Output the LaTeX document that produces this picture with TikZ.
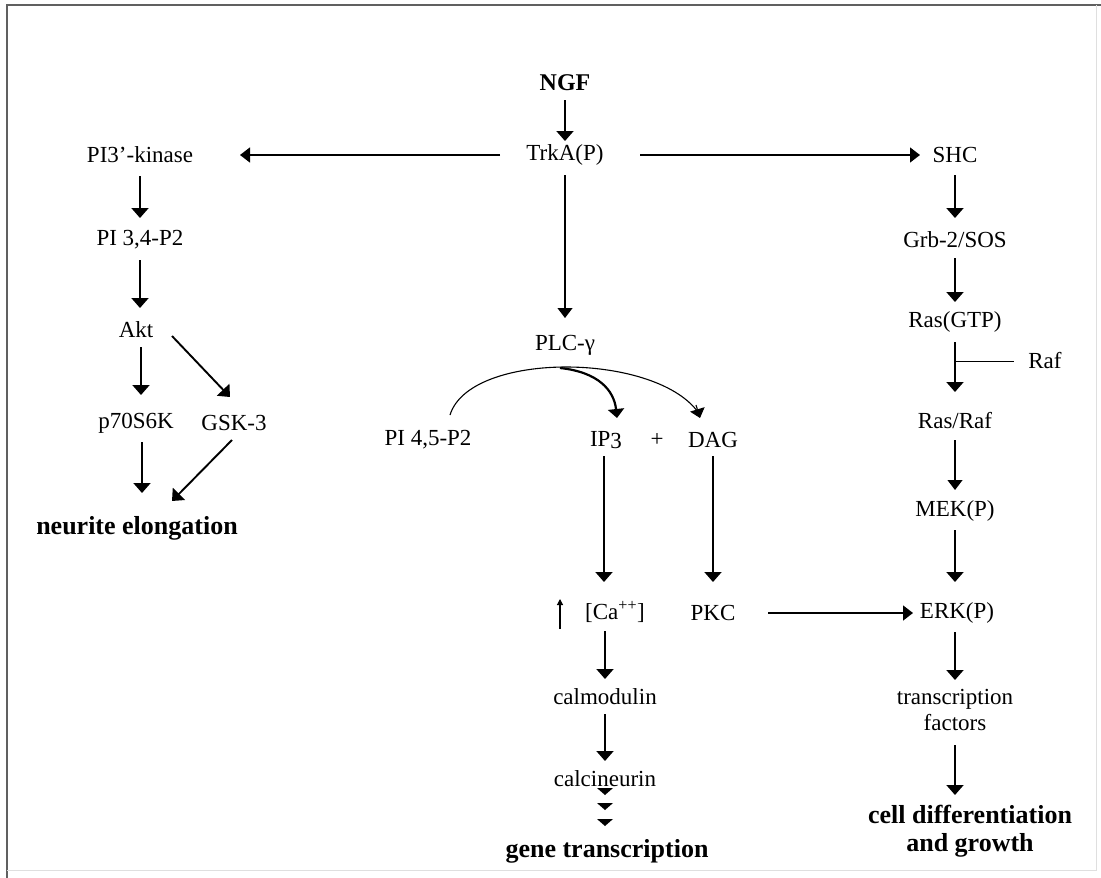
\documentclass[tikz,border=0pt]{standalone}
\usepackage{fontspec}
\setmainfont{Liberation Serif}
\usetikzlibrary{arrows.meta}
\begin{document}
\begin{tikzpicture}[x=1pt,y=-1pt,
  lbl/.style={inner sep=0pt,font=\fontsize{23}{25}\selectfont},
  blbl/.style={inner sep=0pt,font=\fontsize{26}{28}\selectfont\bfseries,align=center},
  arr/.style={line width=1.9pt,-{Triangle[width=17pt,length=10pt]}},
  tarr/.style={line width=1.1pt,-{Triangle[width=15pt,length=10pt]}},
  harr/.style={line width=1.5pt,-{Triangle[width=15pt,length=10pt]}}]
\useasboundingbox (0,0) rectangle (1101,878);
\fill[white] (0,0) rectangle (1101,878);
% frame
\draw[line width=2pt,gray!75!black] (7,878) -- (7,5) -- (1101,5);
\draw[line width=1pt,gray!25] (1096,5) -- (1096,870) -- (7,870);

% nodes
\node[blbl,font=\fontsize{24}{28}\selectfont\bfseries] (ngf) at (565,83) {NGF};
\node[lbl] (trka) at (565,155) {TrkA(P)};
\node[lbl] (pik) at (140,155) {PI3'-kinase};
\node[lbl] (shc) at (955,155) {SHC};
\node[lbl] (pi34) at (140,240) {PI 3,4-P2};
\node[lbl] (akt) at (136,330) {Akt};
\node[lbl] (p70) at (136,423) {p70S6K};
\node[lbl] (gsk) at (234,423) {GSK-3};
\node[blbl] (neur) at (137,528) {neurite elongation};
\node[lbl] (plc) at (565,345) {PLC-γ};
\node[lbl] (pi45) at (428,440) {PI 4,5-P2};
\node[lbl] (ip3) at (606,440) {IP\raisebox{-0.25ex}{3}};
\node[lbl] (plus) at (657,440) {+};
\node[lbl] (dag) at (713,440) {DAG};
\node[lbl] (ca) at (615,612) {[Ca\textsuperscript{++}]};
\node[lbl] (pkc) at (713,613) {PKC};
\node[lbl] (erk) at (957,613) {ERK(P)};
\node[lbl] (calm) at (605,697) {calmodulin};
\node[lbl] (calc) at (605,779) {calcineurin};
\node[blbl] (gene) at (607,851) {gene transcription};
\node[lbl] (grb) at (955,240) {Grb-2/SOS};
\node[lbl] (rasgtp) at (955,322) {Ras(GTP)};
\node[lbl] (raf) at (1045,361) {Raf};
\node[lbl] (rasraf) at (955,421) {Ras/Raf};
\node[lbl] (mek) at (955,511) {MEK(P)};
\node[lbl,align=center,font=\fontsize{23}{26}\selectfont] (tf) at (955,710) {transcription\\factors};
\node[blbl] (cell) at (970,831) {cell differentiation\\and growth};

% connectors
\draw[arr] ([yshift=-17pt]ngf.center) -- ([yshift=14pt]trka.center);
\draw[harr] ([xshift=-65pt]trka.center) -- ([xshift=100pt]pik.center);
\draw[harr] ([xshift=75pt]trka.center) -- ([xshift=-35pt]shc.center);
\draw[tarr] ([yshift=-20pt]trka.center) -- ([yshift=27pt]plc.center);
\draw[arr] ([yshift=-21pt]pik.center) -- ([yshift=22pt]pi34.center);
\draw[arr] ([yshift=-20pt]pi34.center) -- ([xshift=4pt,yshift=22pt]akt.center);
\draw[arr] ([xshift=5pt,yshift=-17pt]akt.center) -- ([xshift=5pt,yshift=28pt]p70.center);
\draw[arr] ([xshift=36pt,yshift=-6pt]akt.center) -- ([xshift=-4pt,yshift=26pt]gsk.center);
\draw[arr] ([xshift=6pt,yshift=-19pt]p70.center) -- ([xshift=5pt,yshift=35pt]neur.center);
\draw[arr] ([xshift=-2pt,yshift=-17pt]gsk.center) -- ([xshift=35pt,yshift=27pt]neur.center);

\draw[arr] ([yshift=-20pt]shc.center) -- ([yshift=22pt]grb.center);
\draw[arr] ([yshift=-18pt]grb.center) -- ([yshift=20pt]rasgtp.center);
\draw[arr] ([yshift=-20pt]rasgtp.center) -- ([yshift=29pt]rasraf.center);
\draw[line width=1pt] (raf.west -| rasgtp.center) -- ([xshift=-14pt]raf.west);
\draw[tarr] ([yshift=-19pt]rasraf.center) -- ([yshift=21pt]mek.center);
\draw[arr] ([yshift=-19pt]mek.center) -- ([xshift=-2pt,yshift=31pt]erk.center);
\draw[arr] ([xshift=-2pt,yshift=-19pt]erk.center) -- ([yshift=30pt]tf.center);
\draw[arr] ([yshift=-35pt]tf.center) -- ([xshift=-15pt,yshift=36pt]cell.center);

% PLC arc
\draw[line width=1.1pt] ([xshift=22pt,yshift=25pt]pi45.center) .. controls (470,350) and (660,352) .. ([xshift=-13pt,yshift=25pt]dag.center);
\draw[line width=1.1pt,-{Triangle[width=15pt,length=9pt]}] (696,405) -- ([xshift=-13pt,yshift=22pt]dag.center);
\draw[line width=2.2pt,-{Triangle[width=16pt,length=9pt]}] (560,368) .. controls (598,372) and (614,390) .. ([xshift=11pt,yshift=22pt]ip3.center);

\draw[arr] ([xshift=-2pt,yshift=-16pt]ip3.center) -- ([xshift=-11pt,yshift=30pt]ca.center);
\draw[arr] ([yshift=-16pt]dag.center) -- ([yshift=31pt]pkc.center);
\draw[line width=1.2pt,-{Triangle[width=6pt,length=6pt]}] ([xshift=-55pt,yshift=-17pt]ca.center) -- ([xshift=-55pt,yshift=13pt]ca.center);
\draw[harr] ([xshift=55pt]pkc.center) -- ([xshift=-44pt]erk.center);
\draw[arr] ([xshift=-10pt,yshift=-19pt]ca.center) -- ([yshift=18pt]calm.center);
\draw[arr] ([yshift=-17pt]calm.center) -- ([yshift=18pt]calc.center);

% triple heads
\fill (calc.center) ++(-8,9) -- ++(16,0) -- ++(-8,7) -- cycle;
\fill (calc.center) ++(-8,24) -- ++(16,0) -- ++(-8,7) -- cycle;
\fill (calc.center) ++(-8,40) -- ++(16,0) -- ++(-8,7) -- cycle;
\end{tikzpicture}
\end{document}
